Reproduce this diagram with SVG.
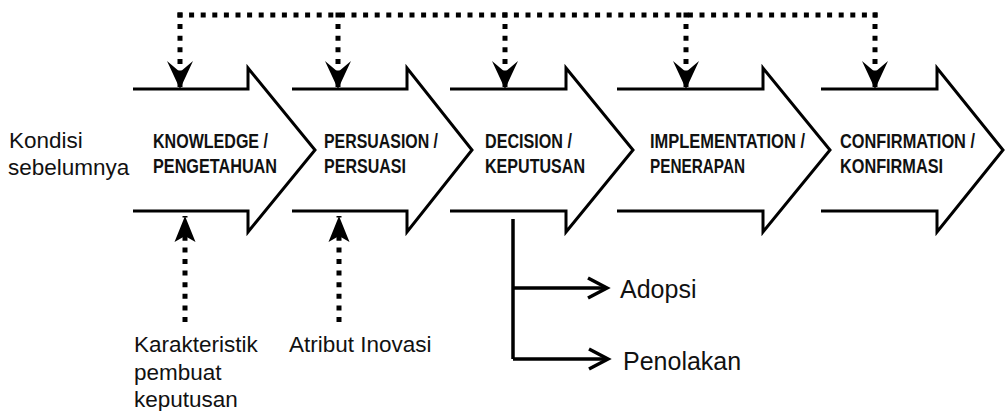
<svg xmlns="http://www.w3.org/2000/svg" width="1007" height="411" viewBox="0 0 1007 411">
  <style>
    .stage { fill: none; stroke: #000; stroke-width: 3; stroke-linejoin: miter; stroke-miterlimit: 10; }
    .stage-label { font-family: "Liberation Sans Narrow", "Arial Narrow", "Liberation Sans", Arial, sans-serif; font-weight: 700; font-size: 20px; fill: #111; }
    .note { font-family: "Liberation Sans", Arial, sans-serif; font-size: 22.5px; fill: #111; }
    .outcome { font-family: "Liberation Sans", Arial, sans-serif; font-size: 25px; fill: #111; }
    .feedback { fill: none; stroke: #000; stroke-width: 5; stroke-dasharray: 5 6.6; }
    .branch { fill: none; stroke: #000; stroke-width: 3.5; stroke-linecap: butt; }
  </style>
  <defs>
    <marker id="dotHead" markerUnits="userSpaceOnUse" viewBox="-29 -14 30 28" markerWidth="30" markerHeight="28" refX="0" refY="0" orient="auto" overflow="visible">
      <path d="M0,0 L-28,-13 L-17,0 L-28,13 Z" fill="#000"/>
    </marker>
    <marker id="dotHeadSmall" markerUnits="userSpaceOnUse" viewBox="-27 -11 28 22" markerWidth="28" markerHeight="22" refX="0" refY="0" orient="auto" overflow="visible">
      <path d="M0,0 L-26,-10.5 L-20,0 L-26,10.5 Z" fill="#000"/>
    </marker>
    <marker id="openHead" markerUnits="userSpaceOnUse" viewBox="-22 -12 24 24" markerWidth="24" markerHeight="24" refX="0" refY="0" orient="auto" overflow="visible">
      <path d="M-19,-10 L0,0 L-19,10" fill="none" stroke="#000" stroke-width="3.5"/>
    </marker>
  </defs>

  <!-- previous conditions -->
  <g id="kondisi">
    <text class="note" x="9" y="148">Kondisi</text>
    <text class="note" x="8" y="175">sebelumnya</text>
  </g>

  <!-- stage arrows -->
  <g id="knowledge">
    <path class="stage" d="M133,89 H248 V68 L315,150 L248,232 V211 H133"/>
    <text class="stage-label" x="153" y="148" textLength="115" lengthAdjust="spacingAndGlyphs">KNOWLEDGE /</text>
    <text class="stage-label" x="153" y="173" textLength="124" lengthAdjust="spacingAndGlyphs">PENGETAHUAN</text>
  </g>
  <g id="persuasion">
    <path class="stage" d="M292,89 H407 V68 L472,150 L407,232 V211 H292"/>
    <text class="stage-label" x="324" y="148" textLength="114" lengthAdjust="spacingAndGlyphs">PERSUASION /</text>
    <text class="stage-label" x="324" y="173" textLength="82" lengthAdjust="spacingAndGlyphs">PERSUASI</text>
  </g>
  <g id="decision">
    <path class="stage" d="M450,89 H566 V68 L633,150 L566,232 V211 H450"/>
    <text class="stage-label" x="485" y="148" textLength="87" lengthAdjust="spacingAndGlyphs">DECISION /</text>
    <text class="stage-label" x="485" y="173" textLength="100" lengthAdjust="spacingAndGlyphs">KEPUTUSAN</text>
  </g>
  <g id="implementation">
    <path class="stage" d="M617,89 H763 V68 L830,150 L763,232 V211 H617"/>
    <text class="stage-label" x="650" y="148" textLength="155" lengthAdjust="spacingAndGlyphs">IMPLEMENTATION /</text>
    <text class="stage-label" x="650" y="173" textLength="95" lengthAdjust="spacingAndGlyphs">PENERAPAN</text>
  </g>
  <g id="confirmation">
    <path class="stage" d="M821,89 H937 V68 L1003,150 L937,232 V211 H821"/>
    <text class="stage-label" x="840" y="148" textLength="135" lengthAdjust="spacingAndGlyphs">CONFIRMATION /</text>
    <text class="stage-label" x="840" y="173" textLength="103" lengthAdjust="spacingAndGlyphs">KONFIRMASI</text>
  </g>

  <!-- input labels below -->
  <g id="karakteristik">
    <text class="note" x="134" y="352">Karakteristik</text>
    <text class="note" x="134" y="380">pembuat</text>
    <text class="note" x="134" y="407">keputusan</text>
  </g>
  <g id="atribut">
    <text class="note" x="289" y="352">Atribut Inovasi</text>
  </g>

  <!-- decision outcomes -->
  <g id="adopsi">
    <text class="outcome" x="620" y="298">Adopsi</text>
  </g>
  <g id="penolakan">
    <text class="outcome" x="623" y="370">Penolakan</text>
  </g>

  <!-- connectors -->
  <g id="connectors">
    <!-- feedback loop across the top -->
    <path class="feedback" d="M177.5,15 H877.5"/>
    <line class="feedback" x1="180" y1="12.5" x2="180" y2="89" marker-end="url(#dotHead)"/>
    <line class="feedback" x1="338" y1="12.5" x2="338" y2="89" marker-end="url(#dotHead)"/>
    <line class="feedback" x1="505" y1="12.5" x2="505" y2="89" marker-end="url(#dotHead)"/>
    <line class="feedback" x1="686" y1="12.5" x2="686" y2="89" marker-end="url(#dotHead)"/>
    <line class="feedback" x1="875" y1="12.5" x2="875" y2="89" marker-end="url(#dotHead)"/>

    <!-- inputs from below -->
    <line class="feedback" x1="185" y1="322" x2="185" y2="216" marker-end="url(#dotHeadSmall)"/>
    <line class="feedback" x1="339" y1="322" x2="339" y2="216" marker-end="url(#dotHeadSmall)"/>

    <!-- decision branch -->
    <path class="branch" d="M513,219 V359"/>
    <line class="branch" x1="513" y1="288" x2="607" y2="288" marker-end="url(#openHead)"/>
    <line class="branch" x1="513" y1="359" x2="608" y2="359" marker-end="url(#openHead)"/>
  </g>
</svg>
